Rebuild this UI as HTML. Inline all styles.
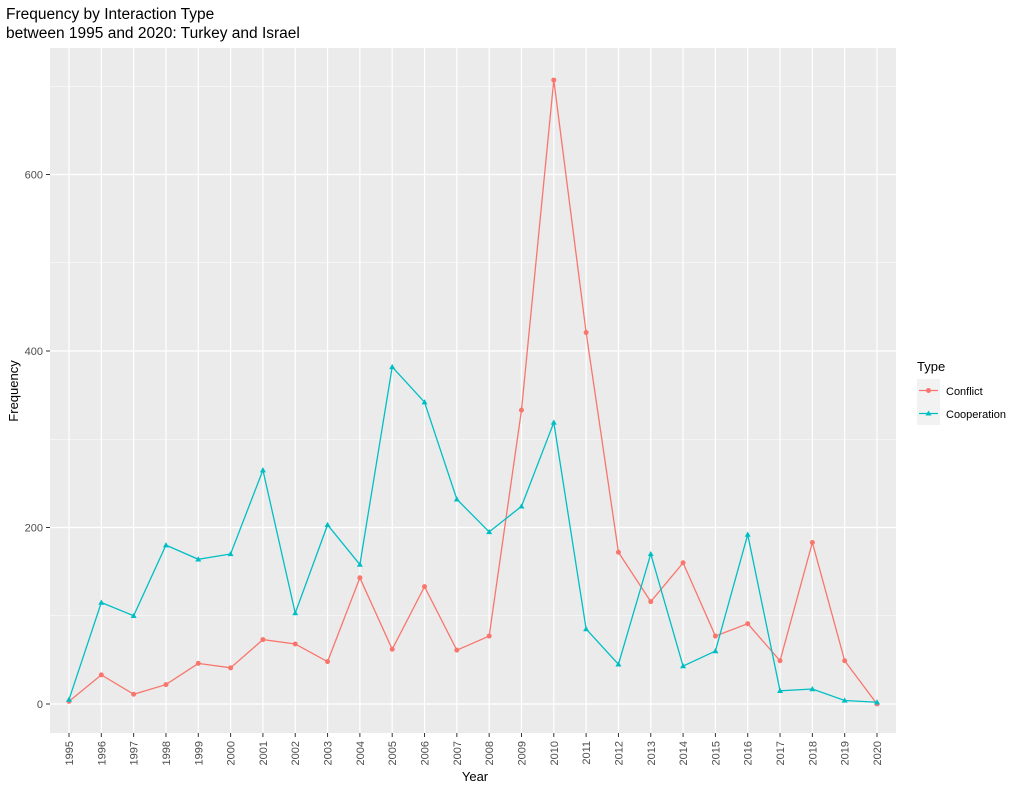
<!DOCTYPE html>
<html><head><meta charset="utf-8"><style>
body{margin:0;background:#fff;font-family:"Liberation Sans",sans-serif}
</style></head><body>
<svg width="1024" height="791" xmlns="http://www.w3.org/2000/svg" font-family="Liberation Sans, sans-serif">
<text x="6" y="19" font-size="15.5" fill="#000">Frequency by Interaction Type</text>
<text x="6" y="38" font-size="15.5" fill="#000">between 1995 and 2020: Turkey and Israel</text>
<rect x="50" y="48" width="846" height="685" fill="#ebebeb"/>
<g id="grid"></g><g id="axes"></g><g id="series"></g>
<text x="475" y="781" font-size="13" text-anchor="middle">Year</text>
<text transform="translate(18,391) rotate(-90)" font-size="13" text-anchor="middle">Frequency</text>
<g>
<text x="917" y="371" font-size="13">Type</text>
<rect x="917" y="379" width="23" height="46" fill="#f2f2f2"/>
<g><line x1="919" y1="390.5" x2="938" y2="390.5" stroke="#F8766D" stroke-width="1.2"/><circle cx="928.5" cy="390.5" r="2.5" fill="#F8766D"/><text x="946" y="395" font-size="11">Conflict</text></g>
<g><line x1="919" y1="413.5" x2="938" y2="413.5" stroke="#00BFC4" stroke-width="1.2"/><path d="M928.5,410.5 L931.5,415.5 L925.5,415.5 Z" fill="#00BFC4"/><text x="946" y="418" font-size="11">Cooperation</text></g>
</g>
</svg>
<script>
const years=[1995,1996,1997,1998,1999,2000,2001,2002,2003,2004,2005,2006,2007,2008,2009,2010,2011,2012,2013,2014,2015,2016,2017,2018,2019,2020];
const conflict=[3,33,11,22,46,41,73,68,48,143,62,133,61,77,333,707,421,172,116,160,77,91,49,183,49,0];
const cooperation=[5,115,100,180,164,170,265,103,203,158,382,342,232,195,224,319,85,45,170,43,60,192,15,17,4,2];
const yTicks=[0,200,400,600];
const yMinor=[100,300,500,700];
const NS="http://www.w3.org/2000/svg";
const x=i=>69+i*(808/25);
const y=v=>704-v*(176.5/200);
function mk(tag,attrs,parent){const e=document.createElementNS(NS,tag);for(const k in attrs)e.setAttribute(k,attrs[k]);parent.appendChild(e);return e;}
const grid=document.getElementById('grid'),axes=document.getElementById('axes'),ser=document.getElementById('series');
yMinor.forEach(v=>{const l=mk('line',{x1:50,x2:896,y1:y(v),y2:y(v),stroke:'#fff','stroke-width':0.6},grid);

});
yTicks.forEach(v=>{const l=mk('line',{x1:50,x2:896,y1:y(v),y2:y(v),stroke:'#fff','stroke-width':1.2},grid);


mk('line',{x1:46,x2:50,y1:y(v),y2:y(v),stroke:'#333'},axes);
const t=mk('text',{x:43,y:y(v)+4,'font-size':11,'text-anchor':'end',fill:'#4d4d4d'},axes);t.textContent=v;

});
years.forEach((yr,i)=>{const l=mk('line',{x1:x(i),x2:x(i),y1:48,y2:733,stroke:'#fff','stroke-width':1.2},grid);


mk('line',{x1:x(i),x2:x(i),y1:733,y2:737,stroke:'#333'},axes);
const t=mk('text',{transform:`translate(${x(i)+4},741) rotate(-90)`,'font-size':11,'text-anchor':'end',fill:'#4d4d4d'},axes);t.textContent=yr;

});
function draw(vals,color,name,tri){
const p=mk('polyline',{points:vals.map((v,i)=>x(i)+','+y(v)).join(' '),fill:'none',stroke:color,'stroke-width':1.3},ser);


vals.forEach((v,i)=>{let m;const cx=x(i),cy=y(v);
if(tri)m=mk('path',{d:`M${cx},${cy-3} L${cx+3},${cy+2.2} L${cx-3},${cy+2.2} Z`,fill:color},ser);
else m=mk('circle',{cx:cx,cy:cy,r:2.5,fill:color},ser);

});}
draw(conflict,'#F8766D','conflict',false);
draw(cooperation,'#00BFC4','cooperation',true);
</script>
</body></html>
